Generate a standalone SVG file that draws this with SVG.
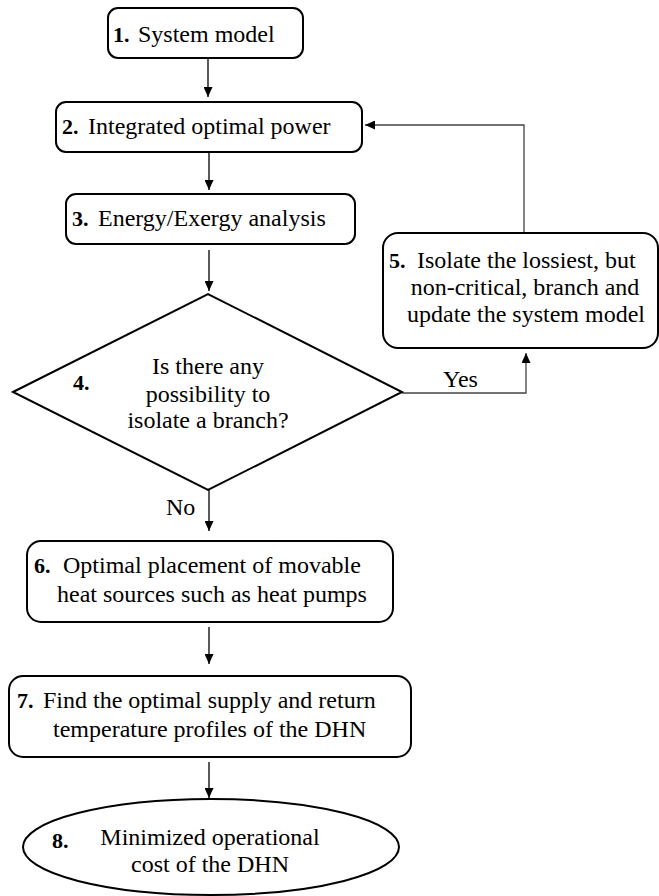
<svg xmlns="http://www.w3.org/2000/svg" width="659" height="896" viewBox="0 0 659 896">
<style>
.box{fill:#fff;stroke:#000;stroke-width:2}
.t{font-family:'Liberation Serif','Times New Roman',serif;font-size:24px;fill:#000}
.n{font-family:'Liberation Serif','Times New Roman',serif;font-size:22px;font-weight:bold;fill:#000}
.c{text-anchor:middle}
.ln{fill:none;stroke:#000;stroke-width:1.3}
.lg{fill:none;stroke:#444;stroke-width:1.3}
</style>
<defs>
<marker id="ah" markerUnits="userSpaceOnUse" markerWidth="11" markerHeight="9" refX="10" refY="4.5" orient="auto">
<path d="M0,0 L10,4.5 L0,9 z" fill="#000"/>
</marker>
</defs>
<rect width="659" height="896" fill="#fff"/>
<g id="connectors">
<line class="ln" x1="208" y1="58" x2="208" y2="97" marker-end="url(#ah)"/>
<line class="ln" x1="209" y1="152" x2="209" y2="190" marker-end="url(#ah)"/>
<line class="ln" x1="209" y1="250" x2="209" y2="291" marker-end="url(#ah)"/>
<line class="ln" x1="209" y1="490" x2="209" y2="531" marker-end="url(#ah)"/>
<line class="ln" x1="209" y1="627" x2="209" y2="664" marker-end="url(#ah)"/>
<line class="ln" x1="209" y1="762" x2="209" y2="798" marker-end="url(#ah)"/>
<polyline class="lg" points="402,393 526,393 526,353" marker-end="url(#ah)"/>
<polyline class="lg" points="524,233 524,125 365,125" marker-end="url(#ah)"/>
<text class="t" x="443" y="387">Yes</text>
<text class="t" x="166" y="515">No</text>
</g>
<g id="node1">
<rect class="box" x="108" y="8" width="195" height="50" rx="10"/>
<text class="n" x="113" y="42">1.</text>
<text class="t" x="138" y="42">System model</text>
</g>
<g id="node2">
<rect class="box" x="56" y="102" width="306" height="50" rx="10"/>
<text class="n" x="62" y="134">2.</text>
<text class="t" x="88" y="134">Integrated optimal power</text>
</g>
<g id="node3">
<rect class="box" x="66" y="194" width="289" height="50" rx="10"/>
<text class="n" x="72" y="226">3.</text>
<text class="t" x="98" y="226">Energy/Exergy analysis</text>
</g>
<g id="node4">
<polygon class="box" points="13,392 208,294 402,392 208,490"/>
<text class="n" x="73" y="390">4.</text>
<text class="t c" x="208" y="374">Is there any</text>
<text class="t c" x="208" y="402">possibility to</text>
<text class="t c" x="208" y="428">isolate a branch?</text>
</g>
<g id="node5">
<rect class="box" x="383" y="233" width="275" height="115" rx="15"/>
<text class="n" x="389" y="268">5.</text>
<text class="t" x="417" y="268">Isolate the lossiest, but</text>
<text class="t c" x="525" y="295">non-critical, branch and</text>
<text class="t c" x="526" y="322">update the system model</text>
</g>
<g id="node6">
<rect class="box" x="27" y="541" width="366" height="81" rx="14"/>
<text class="n" x="34" y="573">6.</text>
<text class="t" x="63" y="573">Optimal placement of movable</text>
<text class="t" x="57" y="602">heat sources such as heat pumps</text>
</g>
<g id="node7">
<rect class="box" x="9" y="676" width="402" height="81" rx="14"/>
<text class="n" x="17" y="708">7.</text>
<text class="t" x="43" y="708">Find the optimal supply and return</text>
<text class="t" x="53" y="737">temperature profiles of the DHN</text>
</g>
<g id="node8">
<ellipse class="box" cx="211" cy="847" rx="188" ry="48"/>
<text class="n" x="52" y="848">8.</text>
<text class="t c" x="210" y="845">Minimized operational</text>
<text class="t c" x="210" y="872">cost of the DHN</text>
</g>
</svg>
